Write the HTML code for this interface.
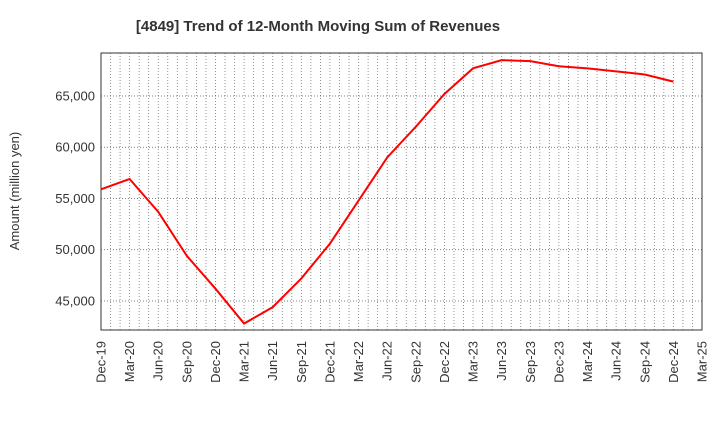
<!DOCTYPE html>
<html><head><meta charset="utf-8"><style>
body{margin:0;background:#fff;font-family:"Liberation Sans",sans-serif;}
</style></head><body>
<svg id="chart" width="720" height="440" xmlns="http://www.w3.org/2000/svg">
<text x="318" y="31" text-anchor="middle" font-size="15" font-weight="bold" fill="#333">[4849]  Trend of 12-Month Moving Sum of Revenues</text>
<text transform="translate(19,191) rotate(-90)" text-anchor="middle" font-size="13" fill="#333">Amount (million yen)</text>
<g id="grid"></g><g id="axes"></g><g id="marks"></g>
</svg>
<script>
const categories=["Dec-19","Mar-20","Jun-20","Sep-20","Dec-20","Mar-21","Jun-21","Sep-21","Dec-21","Mar-22","Jun-22","Sep-22","Dec-22","Mar-23","Jun-23","Sep-23","Dec-23","Mar-24","Jun-24","Sep-24","Dec-24","Mar-25"];
const revenues=[55900,56900,53700,49400,46200,42800,44400,47200,50600,54800,59000,62000,65200,67700,68500,68400,67900,67700,67400,67100,66400];
const yTicks=[45000,50000,55000,60000,65000];
const NS="http://www.w3.org/2000/svg";
const L=101,R=702,T=53,B=330,yMin=42170,yMax=69195;
const x=i=>L+(R-L)*i/(categories.length-1);
const y=v=>B-(v-yMin)/(yMax-yMin)*(B-T);
function mk(tag,attrs,parent){const e=document.createElementNS(NS,tag);for(const k in attrs)e.setAttribute(k,attrs[k]);document.getElementById(parent).appendChild(e);return e;}
const nMonths=(categories.length-1)*3;
for(let m=1;m<nMonths;m++){const xx=L+(R-L)*m/nMonths;
const g=mk("line",{x1:xx,x2:xx,y1:T,y2:B,stroke:"#777","stroke-width":0.8,"stroke-dasharray":"1,2"},"grid");

}
yTicks.forEach(v=>{const g=mk("line",{x1:L,x2:R,y1:y(v),y2:y(v),stroke:"#555","stroke-width":0.8,"stroke-dasharray":"1,2"},"grid");


const t=mk("text",{x:L-6,y:y(v)+4.5,"text-anchor":"end","font-size":13,fill:"#333"},"axes");t.textContent=v.toLocaleString("en-US");

});
const fr=mk("rect",{x:L,y:T,width:R-L,height:B-T,fill:"none",stroke:"#333","stroke-width":1},"axes");


categories.forEach((c,i)=>{const t=mk("text",{transform:`translate(${x(i)+4.5},${B+11}) rotate(-90)`,"text-anchor":"end","font-size":13,fill:"#333"},"axes");t.textContent=c;

});
const p=mk("polyline",{points:revenues.map((v,i)=>x(i)+","+y(v)).join(" "),fill:"none",stroke:"#ff0000","stroke-width":2},"marks");


</script>
</body></html>
